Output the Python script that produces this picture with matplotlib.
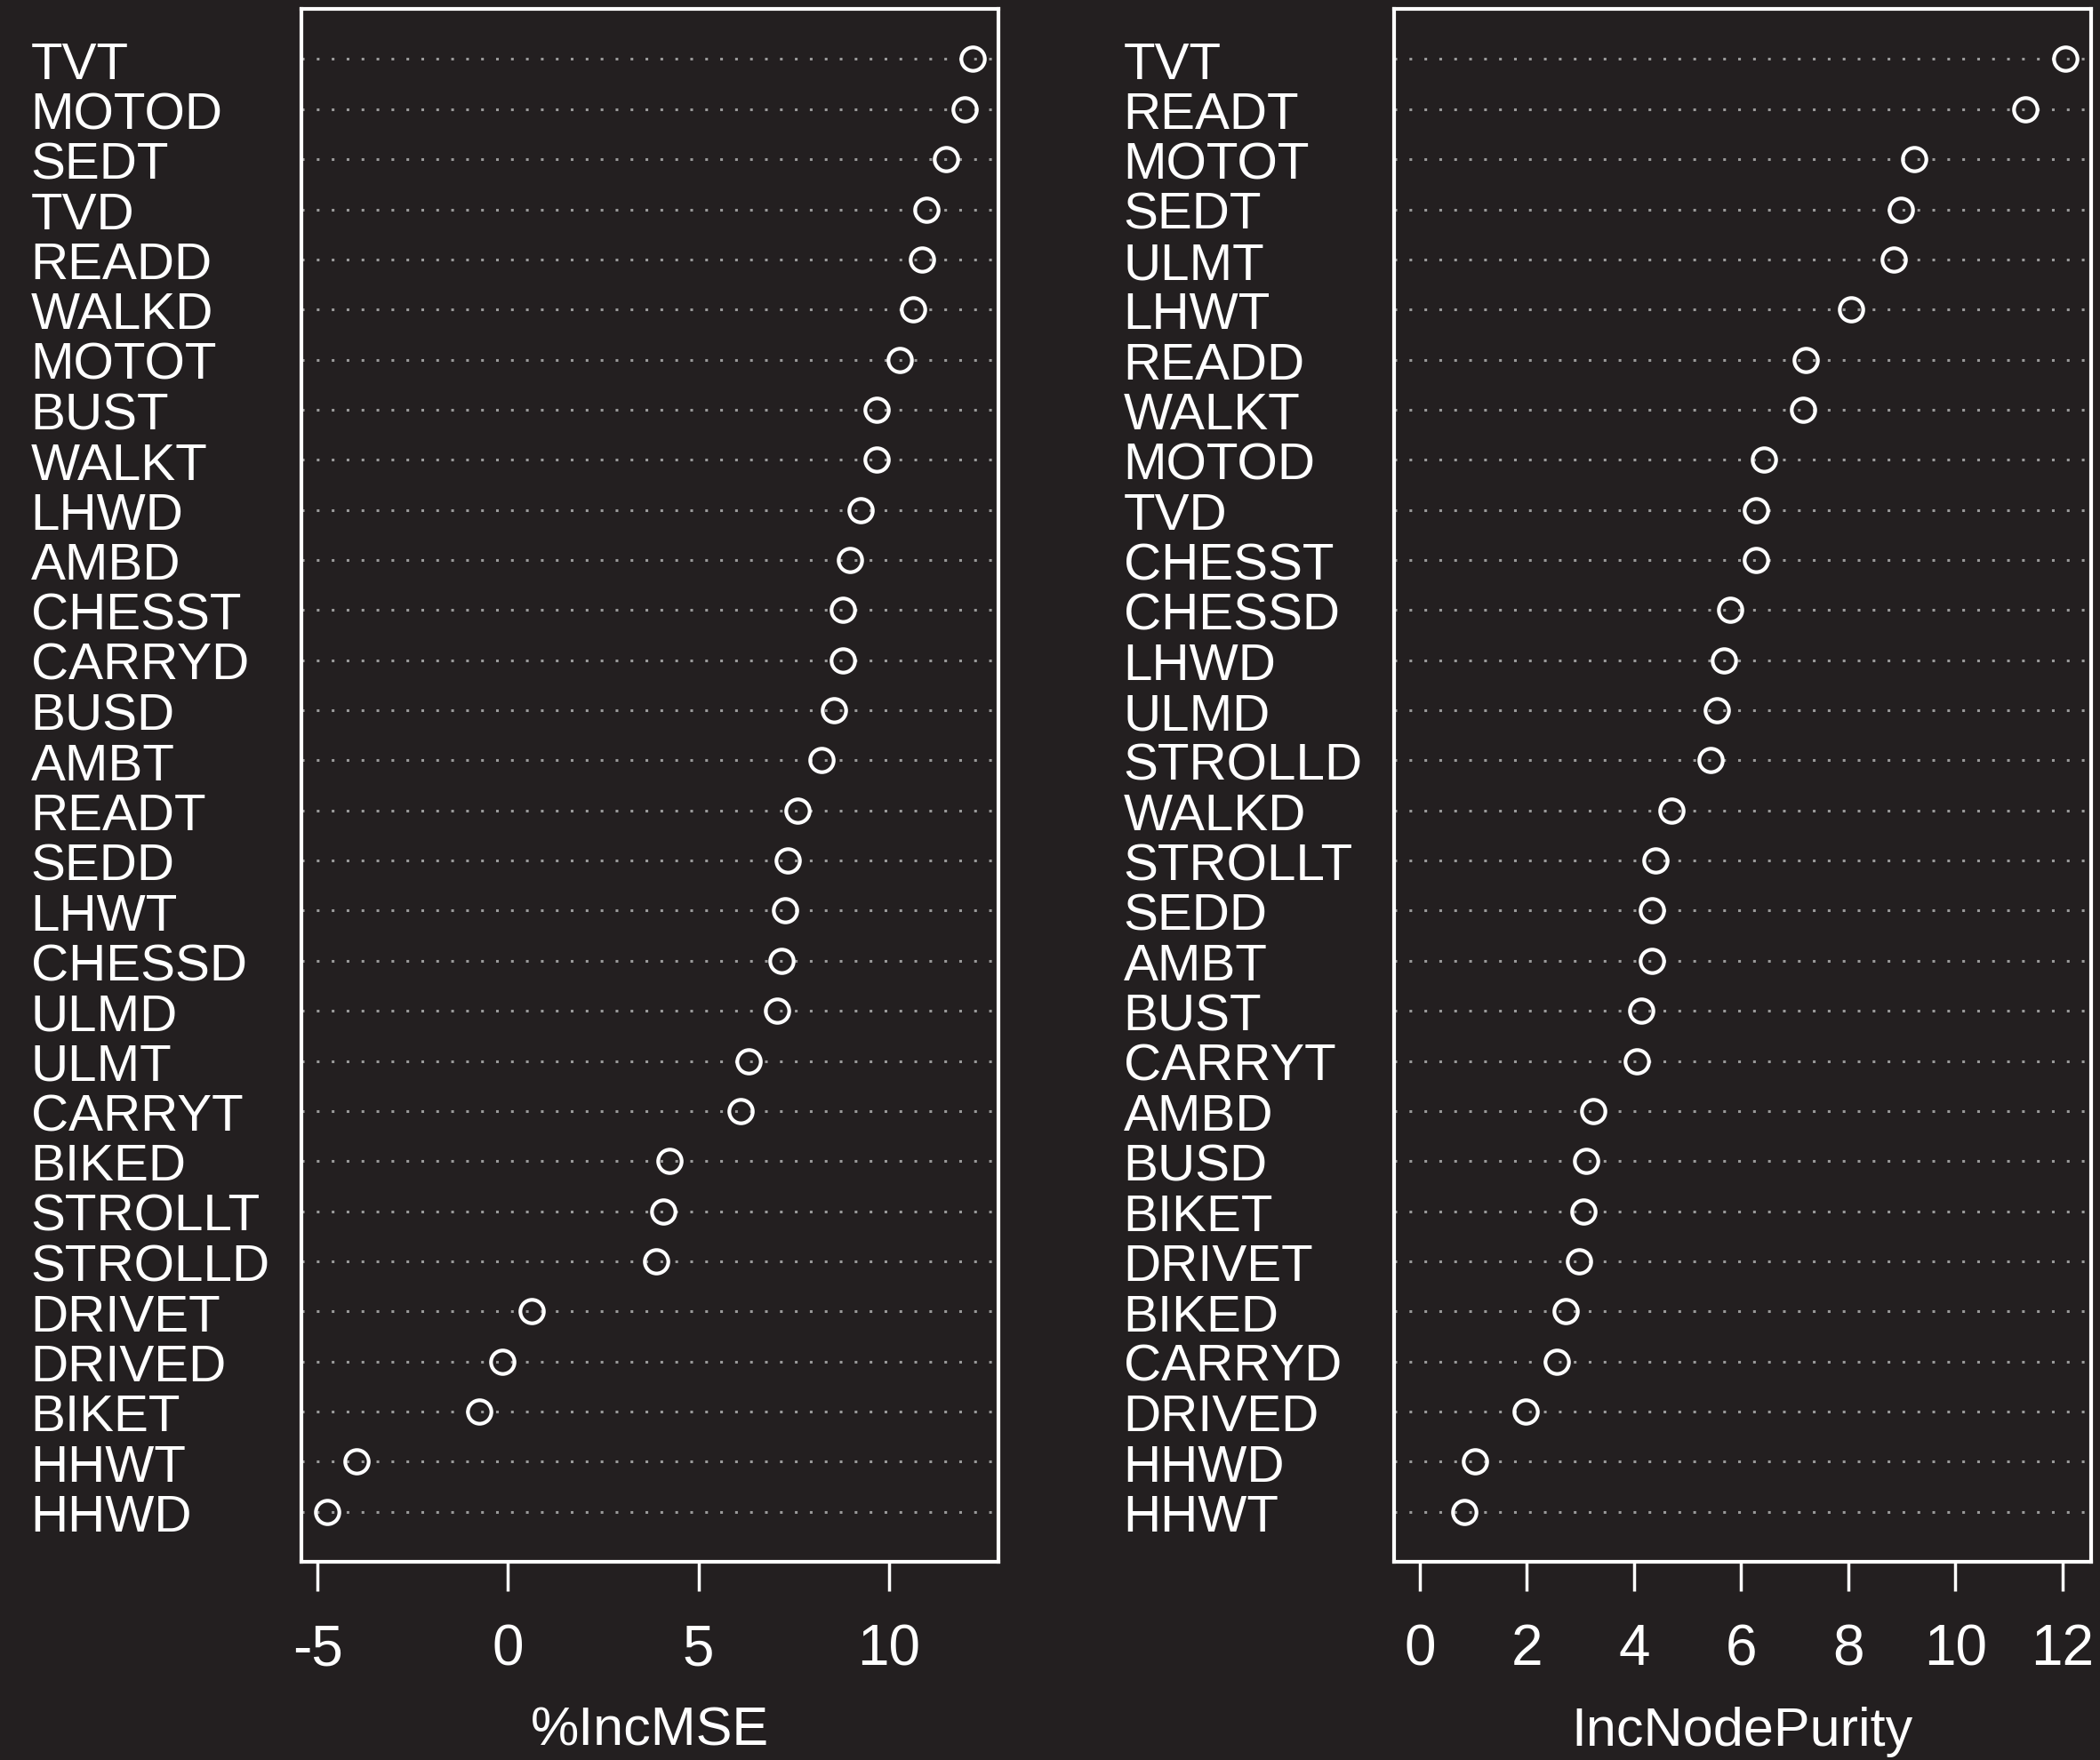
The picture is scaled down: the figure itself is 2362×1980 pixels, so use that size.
import matplotlib
matplotlib.use("Agg")
import matplotlib.pyplot as plt
from matplotlib.transforms import blended_transform_factory, offset_copy

plt.rcParams["font.family"] = ["Liberation Sans", "DejaVu Sans"]

BG = "#231f20"
FG = "white"

# %IncMSE panel, top to bottom
mse_vars = ["TVT", "MOTOD", "SEDT", "TVD", "READD", "WALKD", "MOTOT", "BUST",
            "WALKT", "LHWD", "AMBD", "CHESST", "CARRYD", "BUSD", "AMBT", "READT",
            "SEDD", "LHWT", "CHESSD", "ULMD", "ULMT", "CARRYT", "BIKED", "STROLLT",
            "STROLLD", "DRIVET", "DRIVED", "BIKET", "HHWT", "HHWD"]
mse_vals = [12.2, 12.0, 11.5, 10.99, 10.88, 10.64, 10.28, 9.68,
            9.68, 9.26, 8.98, 8.80, 8.80, 8.56, 8.24, 7.60,
            7.35, 7.28, 7.18, 7.07, 6.33, 6.12, 4.25, 4.07,
            3.89, 0.61, -0.16, -0.76, -3.97, -4.75]

# IncNodePurity panel, top to bottom
pur_vars = ["TVT", "READT", "MOTOT", "SEDT", "ULMT", "LHWT", "READD", "WALKT",
            "MOTOD", "TVD", "CHESST", "CHESSD", "LHWD", "ULMD", "STROLLD", "WALKD",
            "STROLLT", "SEDD", "AMBT", "BUST", "CARRYT", "AMBD", "BUSD", "BIKET",
            "DRIVET", "BIKED", "CARRYD", "DRIVED", "HHWD", "HHWT"]
pur_vals = [12.05, 11.3, 9.23, 8.98, 8.85, 8.05, 7.2, 7.15,
            6.43, 6.28, 6.28, 5.8, 5.68, 5.55, 5.43, 4.7,
            4.4, 4.33, 4.33, 4.13, 4.05, 3.23, 3.1, 3.05,
            2.98, 2.73, 2.55, 1.98, 1.03, 0.83]

fig = plt.figure(figsize=(23.62, 19.8), dpi=100, facecolor=BG)


def dot_panel(rect, names, vals, xmin, xticks, xlabel, label_x):
    ax = fig.add_axes(rect, facecolor=BG)
    n = len(vals)
    ys = list(range(n, 0, -1))
    lo = xmin if xmin is not None else min(vals)
    hi = max(vals)
    pad = (hi - lo) * 0.04
    ax.set_xlim(lo - pad, hi + pad)
    ax.set_ylim(0, n + 1)
    for y in ys:
        ax.axhline(y, color="#9a9a9a", lw=2.2, dashes=(1, 4.5), zorder=1)
    ax.plot(vals, ys, "o", ms=19, mfc="none", mec=FG, mew=3.0, zorder=3,
            linestyle="none")
    trans = blended_transform_factory(fig.transFigure, ax.transData)
    trans = offset_copy(trans, fig=fig, y=-16, units="points")
    for name, y in zip(names, ys):
        ax.text(label_x, y, name, transform=trans, ha="left", va="baseline",
                color=FG, fontsize=42)
    for s in ax.spines.values():
        s.set_color(FG)
        s.set_linewidth(3)
    ax.set_yticks([])
    ax.set_xticks(xticks)
    ax.set_xticklabels([str(t) for t in xticks])
    ax.tick_params(axis="x", colors=FG, labelsize=46, length=24, width=2.5,
                   pad=26, direction="out")
    ax.set_xlabel(xlabel, color=FG, fontsize=44, labelpad=24)
    return ax


dot_panel([0.1435, 0.1126, 0.3319, 0.8823], mse_vars, mse_vals, None,
          [-5, 0, 5, 10], "%IncMSE", 0.0147)
dot_panel([0.6638, 0.1126, 0.3319, 0.8823], pur_vars, pur_vals, 0,
          [0, 2, 4, 6, 8, 10, 12], "IncNodePurity", 0.535)

fig.savefig("out.png", dpi=100, facecolor=BG)
